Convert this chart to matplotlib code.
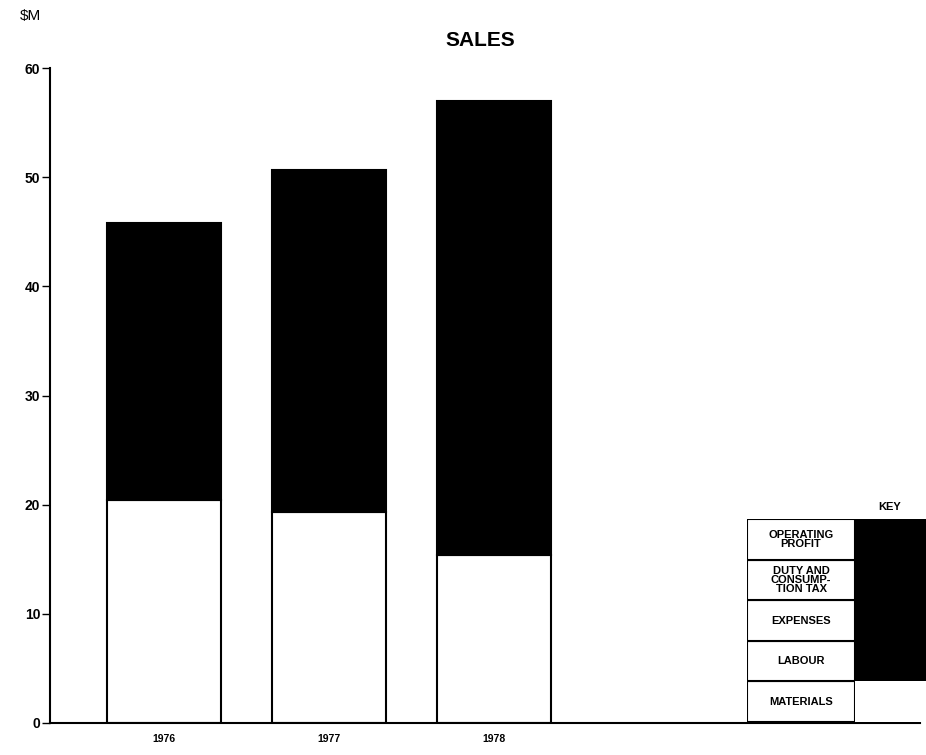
import matplotlib
matplotlib.use("Agg")
import matplotlib.pyplot as plt
from matplotlib.patches import Rectangle

# Sales ($M) split into materials and everything else
years = ["1976", "1977", "1978"]
materials = [20.4, 19.3, 15.4]
sales_total = [45.8, 50.7, 57.0]
other_costs = [t - m for t, m in zip(sales_total, materials)]

y_ticks = [0, 10, 20, 30, 40, 50, 60]
key_labels = ["MATERIALS", "LABOUR", "EXPENSES", "DUTY AND\nCONSUMP-\nTION TAX", "OPERATING\nPROFIT"]

plt.rcParams['font.family'] = ['Liberation Sans', 'DejaVu Sans']

fig = plt.figure(figsize=(9.26, 7.55), dpi=100)
ax = fig.add_axes([50/926, 1 - 723/755, 870/926, (723 - 68)/755])

x = list(range(len(years)))
ax.bar(x, materials, width=0.69, color="white", edgecolor="black", linewidth=1.5)
ax.bar(x, other_costs, bottom=materials, width=0.69, color="black", edgecolor="black", linewidth=1.5)

ax.set_xlim(-0.69, 4.58)
ax.set_ylim(0, 60)
ax.set_yticks(y_ticks)
ax.set_yticklabels([str(t) for t in y_ticks], fontweight="bold", fontsize=10)
ax.set_xticks(x)
ax.set_xticklabels(years, fontweight="bold", fontsize=7.5)
ax.tick_params(axis="x", length=0, pad=8)
ax.tick_params(axis="y", length=6, width=1, direction="out", pad=1)
for s in ["top", "right"]:
    ax.spines[s].set_visible(False)
ax.spines["left"].set_linewidth(1.5)
ax.spines["bottom"].set_linewidth(1.5)

fig.text(20/926, 1 - 16/755, "$M", fontsize=11, va="center", ha="left")
fig.text(480/926, 1 - 40/755, "SALES", fontsize=15, fontweight="semibold", va="center", ha="center")

# key
kax = fig.add_axes([747/926, 1 - 722/755, 179/926, (722 - 519)/755])
kax.set_xlim(0, 1)
kax.set_ylim(0, 5)
kax.axis("off")
split = 108/179
for i, lab in enumerate(key_labels):
    kax.add_patch(Rectangle((0, i), split, 1, facecolor="white", edgecolor="black", linewidth=1.5))
    kax.text(split/2, i + 0.5, lab, ha="center", va="center", fontsize=8,
             fontweight="bold", linespacing=0.85)
kax.add_patch(Rectangle((split, 1), 1 - split, 4, facecolor="black", edgecolor="black"))
kax.add_patch(Rectangle((split, 0), 1 - split, 1, facecolor="white", edgecolor="none"))
fig.text(890/926, 1 - 507/755, "KEY", fontsize=8, fontweight="bold", ha="center", va="center")

fig.savefig("out.png", dpi=100)
